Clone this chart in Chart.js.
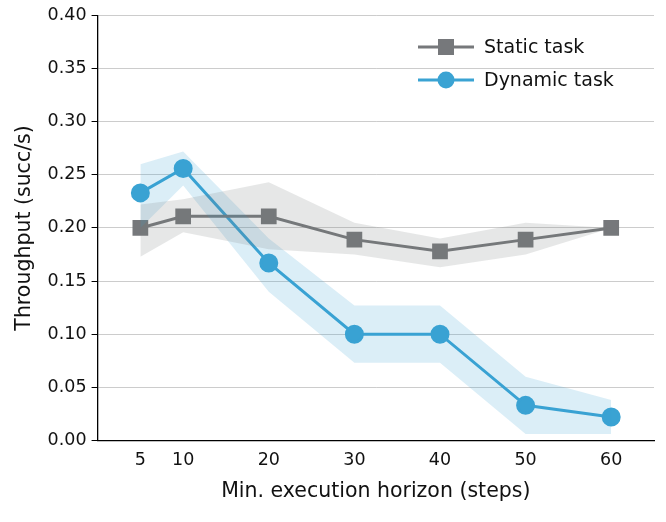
<!DOCTYPE html>
<html><head><meta charset="utf-8">
<script src="https://cdn.jsdelivr.net/npm/chart.js@4/dist/chart.umd.min.js"></script>
<style>body{margin:0;background:#fff}#wrap{width:666px;height:522px}</style>
</head><body><div id="wrap"><canvas id="c"></canvas></div>
<script>
const horizons = [5, 10, 20, 30, 40, 50, 60];
const staticMean = [0.200, 0.211, 0.211, 0.189, 0.178, 0.189, 0.200];
const staticLow = [0.173, 0.196, 0.180, 0.175, 0.163, 0.175, 0.200];
const staticHigh = [0.222, 0.227, 0.243, 0.205, 0.190, 0.205, 0.200];
const dynMean = [0.233, 0.256, 0.167, 0.100, 0.100, 0.033, 0.022];
const dynLow = [0.200, 0.240, 0.140, 0.073, 0.073, 0.006, 0.006];
const dynHigh = [0.260, 0.272, 0.190, 0.127, 0.127, 0.060, 0.038];
const yTicks = [0, 0.05, 0.10, 0.15, 0.20, 0.25, 0.30, 0.35, 0.40];

const grey = '#76787b', blue = '#3aa3d3';
const pts = a => a.map((v, i) => ({x: horizons[i], y: v}));
const font = {family: "'DejaVu Sans', sans-serif", size: 17.5};

const legendPlugin = {
  id: 'lg',
  afterDraw(chart) {
    const ctx = chart.ctx;
    const items = [['Static task', grey, 'rect'], ['Dynamic task', blue, 'circle']];
    ctx.save();
    ctx.font = "19px 'DejaVu Sans', sans-serif";
    ctx.textBaseline = 'middle';
    items.forEach((it, i) => {
      const y = 47 + i * 33, x0 = 418, x1 = 474, xm = 446;
      ctx.strokeStyle = it[1]; ctx.fillStyle = it[1]; ctx.lineWidth = 3;
      ctx.beginPath(); ctx.moveTo(x0, y); ctx.lineTo(x1, y); ctx.stroke();
      if (it[2] === 'rect') ctx.fillRect(xm - 8, y - 8, 16, 16);
      else { ctx.beginPath(); ctx.arc(xm, y, 8.5, 0, Math.PI * 2); ctx.fill(); }
      ctx.fillStyle = '#111';
      ctx.fillText(it[0], 484, y + 1);
    });
    ctx.restore();
  }
};

new Chart('c', {
  type: 'line',
  plugins: [legendPlugin],
  data: {
    datasets: [
      {data: pts(staticLow), borderWidth: 0, pointRadius: 0, fill: false},
      {data: pts(staticHigh), borderWidth: 0, pointRadius: 0, fill: '-1', backgroundColor: 'rgba(118,120,123,0.18)'},
      {data: pts(dynLow), borderWidth: 0, pointRadius: 0, fill: false},
      {data: pts(dynHigh), borderWidth: 0, pointRadius: 0, fill: '-1', backgroundColor: 'rgba(58,163,211,0.18)'},
      {data: pts(staticMean), borderColor: grey, backgroundColor: grey, borderWidth: 3,
       pointStyle: 'rect', pointRadius: 9, fill: false},
      {data: pts(dynMean), borderColor: blue, backgroundColor: blue, borderWidth: 3,
       pointStyle: 'circle', pointRadius: 8, fill: false}
    ]
  },
  options: {
    responsive: true, maintainAspectRatio: false, animation: false,
    layout: {padding: {top: 8, right: 10, left: 8, bottom: 14}},
    plugins: {legend: {display: false}, tooltip: {enabled: false}},
    scales: {
      x: {
        type: 'linear', min: 0, max: 65,
        afterBuildTicks: a => { a.ticks = horizons.map(v => ({value: v})); },
        grid: {display: false, drawTicks: true, tickLength: 6, tickColor: '#000'},
        border: {color: '#000', width: 1.3},
        ticks: {color: '#111', font, padding: 4, maxRotation: 0},
        title: {display: true, text: 'Min. execution horizon (steps)', color: '#111',
                font: {family: font.family, size: 20.5}, padding: {top: 4}}
      },
      y: {
        min: 0, max: 0.4,
        afterBuildTicks: a => { a.ticks = yTicks.map(v => ({value: v})); },
        grid: {color: '#cccccc', lineWidth: 1, tickLength: 6, tickColor: '#000'},
        border: {color: '#000', width: 1.3},
        ticks: {color: '#111', font, padding: 5, callback: v => v.toFixed(2)},
        title: {display: true, text: 'Throughput (succ/s)', color: '#111',
                font: {family: font.family, size: 20.5}, padding: {bottom: 6}}
      }
    }
  }
});
</script></body></html>
